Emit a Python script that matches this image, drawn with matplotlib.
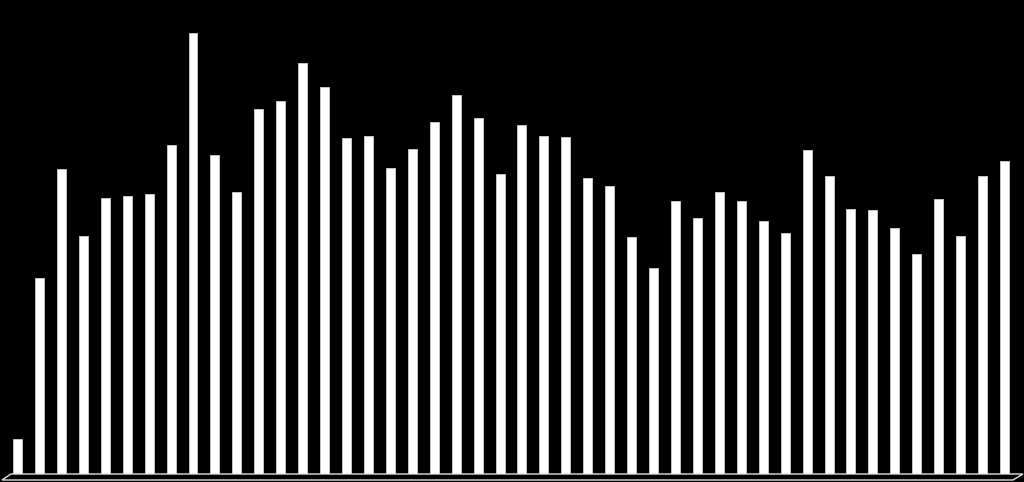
import matplotlib
matplotlib.use("Agg")
import matplotlib.pyplot as plt
from matplotlib.patches import Polygon
import numpy as np

# bar heights (arbitrary units)
values = [38, 199, 308, 241, 279, 281, 283, 332, 444, 322,
          285, 368, 376, 414, 390, 339, 341, 309, 328, 355,
          382, 359, 303, 352, 341, 340, 299, 291, 240, 209,
          276, 259, 285, 276, 256, 244, 327, 301, 268, 267,
          249, 223, 278, 241, 301, 316]
categories = list(range(1, len(values) + 1))

fig = plt.figure(figsize=(10.24, 4.82), dpi=100, facecolor="black")
ax = fig.add_axes([0, 0, 1, 1])
ax.set_facecolor("black")

x = np.arange(len(categories))
ax.bar(x, values, width=0.41, color="white", edgecolor="#d0d0d0",
       linewidth=0.6, zorder=3)

ax.set_xlim(-0.8, len(values) - 1 + 0.89)
ax.set_ylim(-5, 477)
ax.axis("off")

# thin 3D-style floor under the bars
floor = Polygon([(2 / 1024, 2 / 482), (1013 / 1024, 2 / 482),
                 (1023 / 1024, 8 / 482), (11 / 1024, 8 / 482)],
                closed=True, transform=fig.transFigure,
                facecolor="black", edgecolor="#e0e0e0", linewidth=1.0,
                zorder=1)
fig.patches.append(floor)

fig.savefig("out.png", dpi=100, facecolor="black")
